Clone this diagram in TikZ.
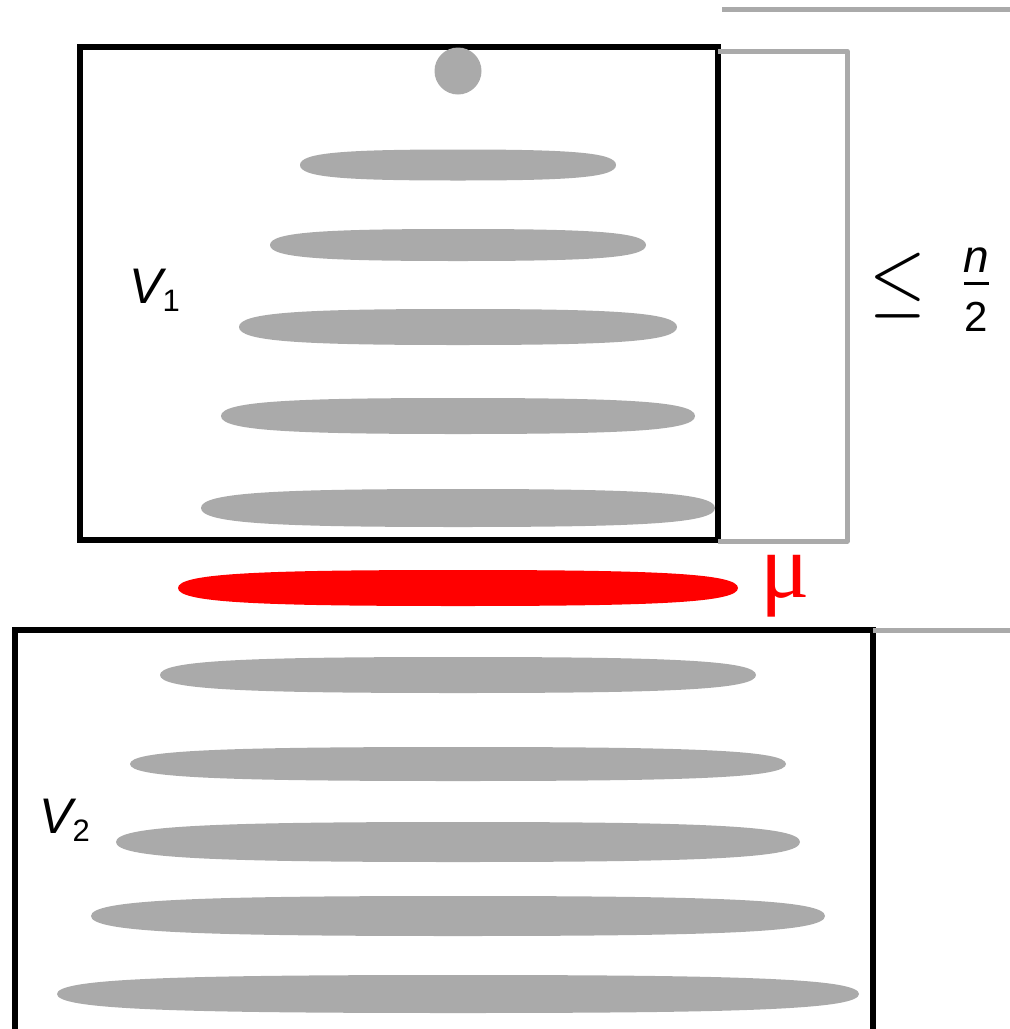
\documentclass[tikz,border=0pt]{standalone}
\usepackage{fontspec}
\setmainfont{Liberation Sans}
\newfontfamily\serifmu{Liberation Serif}
\definecolor{lightgrayc}{RGB}{170,170,170}
\definecolor{redc}{RGB}{255,0,0}
\newcommand\blob[5]{%
  \fill[#5] ({#1-#3},#2)
    .. controls ({#1-#3},{#2-0.8*#4}) and ({#1-0.72*#3},{#2-#4}) .. (#1,{#2-#4})
    .. controls ({#1+0.72*#3},{#2-#4}) and ({#1+#3},{#2-0.8*#4}) .. ({#1+#3},#2)
    .. controls ({#1+#3},{#2+0.8*#4}) and ({#1+0.72*#3},{#2+#4}) .. (#1,{#2+#4})
    .. controls ({#1-0.72*#3},{#2+#4}) and ({#1-#3},{#2+0.8*#4}) .. cycle;}
\newcommand\vlabel[1]{{\fontsize{50}{56}\selectfont\itshape V}{\fontsize{31}{34}\selectfont\raisebox{-8pt}{#1}}}
\begin{document}
\begin{tikzpicture}[x=1pt,y=-1pt,
  frame/.style={line width=5.5pt, draw=black},
  grayline/.style={line width=5pt, draw=lightgrayc}]
\useasboundingbox (0,0) rectangle (1010,1029);
\clip (0,0) rectangle (1010,1029);
% top gray line
\coordinate (t1) at (722,9);
\coordinate (t2) at (1010,9);
\draw[grayline] (t1) -- (t2);
% V1 frame
\coordinate (a1) at (80,47);
\coordinate (a2) at (718,540);
\draw[frame] (a1) rectangle (a2);
% bracket
\coordinate (b1) at (718,51);
\coordinate (b2) at (847,51);
\coordinate (b3) at (847,541);
\coordinate (b4) at (718,541);
\draw[grayline, line join=round] (b1) -- (b2) -- (b3) -- (b4);
% circle
\node[circle, fill=lightgrayc, minimum size=47pt, inner sep=0pt] (dot) at (458,71) {};
% V1 blobs
\blob{458}{165}{158}{15.5}{lightgrayc}
\blob{458}{245}{188}{16}{lightgrayc}
\blob{458}{327}{219}{18}{lightgrayc}
\blob{458}{416}{237}{18}{lightgrayc}
\blob{458}{508}{257}{19}{lightgrayc}
% red blob
\blob{458}{588}{280}{18}{redc}
\node[anchor=center, inner sep=0pt, text=redc] (mu) at (785,586) {\serifmu\fontsize{92}{100}\selectfont μ};
% V2 frame
\coordinate (c1) at (15,1060);
\coordinate (c2) at (15,630);
\coordinate (c3) at (873,630);
\coordinate (c4) at (873,1060);
\draw[frame] (c1) -- (c2) -- (c3) -- (c4);
\coordinate (g2) at (1010,630);
\draw[grayline] (c3) -- (g2);
% V2 blobs
\blob{458}{675}{298}{18}{lightgrayc}
\blob{458}{764}{328}{17}{lightgrayc}
\blob{458}{842}{342}{20}{lightgrayc}
\blob{458}{916}{367}{20}{lightgrayc}
\blob{458}{994}{401}{19}{lightgrayc}
% labels
\node[anchor=base west, inner sep=0pt] (v1) at (129,303) {\vlabel{1}};
\node[anchor=base west, inner sep=0pt] (v2) at (39,833) {\vlabel{2}};
% <= n/2
\node[inner sep=0pt] (le) at (898,285) {\scalebox{7.3}[8.4]{$\leq$}};
\node[inner sep=0pt] (num) at (976,260) {\fontsize{46}{50}\selectfont\itshape n};
\node[inner sep=0pt] (den) at (976,317) {\fontsize{42}{50}\selectfont 2};
\coordinate (f1) at (964,283);
\coordinate (f2) at (989,283);
\draw[line width=3pt] (f1) -- (f2);
\end{tikzpicture}
\end{document}
